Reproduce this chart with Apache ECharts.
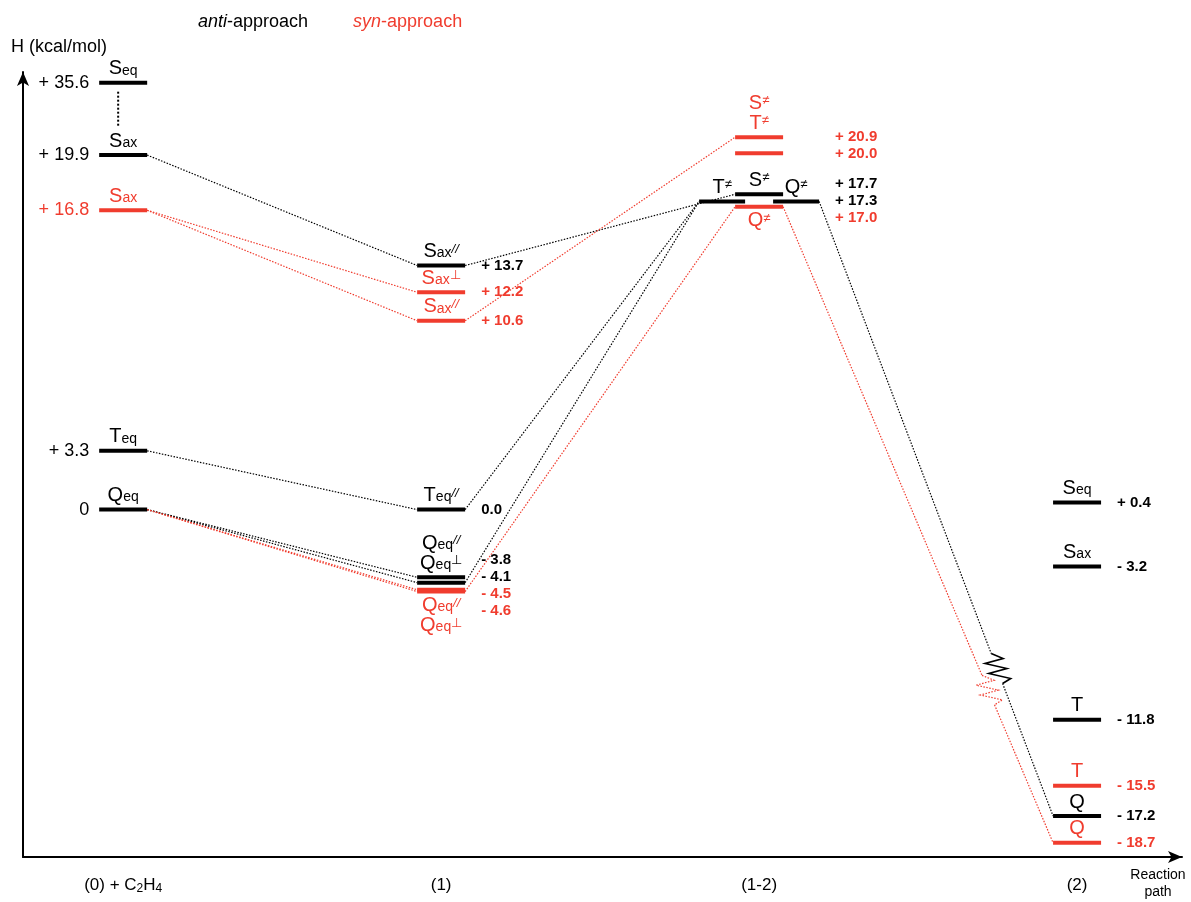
<!DOCTYPE html>
<html>
<head>
<meta charset="utf-8">
<title>Reaction enthalpy profile</title>
<script src="https://cdn.jsdelivr.net/npm/echarts@6/dist/echarts.min.js"></script>
<style>
  html, body { margin: 0; padding: 0; background: #ffffff; }
  #chart { width: 1191px; height: 902px; }
</style>
</head>
<body>
<div id="chart"></div>
<script>
// Reaction-path stages along the x-axis
const stages = ['(0) + C2H4', '(1)', '(1-2)', '(2)'];

// Energy levels: stage index, species, approach and enthalpy H (kcal/mol)
const levelStage = [0, 0, 0, 0, 0,
  1, 1, 1, 1, 1, 1, 1, 1,
  2, 2, 2, 2, 2, 2,
  3, 3, 3, 3, 3, 3];
const levelSpecies = ['S_eq', 'S_ax', 'S_ax', 'T_eq', 'Q_eq',
  'S_ax^//', 'S_ax^⊥', 'S_ax^//', 'T_eq^//', 'Q_eq^//', 'Q_eq^⊥', 'Q_eq^//', 'Q_eq^⊥',
  'S^≠', 'T^≠', 'S^≠', 'T^≠', 'Q^≠', 'Q^≠',
  'S_eq', 'S_ax', 'T', 'T', 'Q', 'Q'];
const levelApproach = ['anti', 'anti', 'syn', 'anti', 'anti',
  'anti', 'syn', 'syn', 'anti', 'anti', 'anti', 'syn', 'syn',
  'syn', 'syn', 'anti', 'anti', 'anti', 'syn',
  'anti', 'anti', 'anti', 'syn', 'anti', 'syn'];
const levelH = [35.6, 19.9, 16.8, 3.3, 0,
  13.7, 12.2, 10.6, 0.0, -3.8, -4.1, -4.5, -4.6,
  20.9, 20.0, 17.7, 17.3, 17.3, 17.0,
  0.4, -3.2, -11.8, -15.5, -17.2, -18.7];

// Connections between levels (index into the level arrays)
const linkFrom = [1, 2, 2, 3, 4, 4, 4, 4, 5, 7, 8, 10, 12, 17, 18];
const linkTo   = [5, 6, 7, 8, 9, 10, 11, 12, 15, 13, 16, 16, 18, 23, 24];

// Enthalpy axis range and the break that skips the empty band below S_eq
const H_MIN = -19.5, H_MAX = 36.2;
const H_BREAK = { start: 21.6, end: 35.0 };

// Paths entering this stage are drawn broken (zigzag)
const BROKEN_STAGE = 3;

const COLOR = { anti: '#000000', syn: '#f03c2e' };
const FONT = '"Liberation Sans", Arial, sans-serif';
const HALF_W = 24, PAIR_HALF_W = 23, PAIR_SHIFT = 37, BAR_W = 4;
const NAME_H = 18, NAME_STEP = 20, NAME_ROOM = 22;
const VALUE_STEP = 17;

function formatH(h, stage) {
  if (h === 0) return stage === 0 ? '0' : '0.0';
  return (h > 0 ? '+ ' : '- ') + Math.abs(h).toFixed(1);
}

function speciesRich(sp) {
  const m = sp.match(/^([^_^]+)(?:_([^^]+))?(?:\^(.+))?$/);
  let s = '{m|' + m[1] + '}';
  if (m[2]) s += '{sb|' + m[2] + '}';
  if (m[3]) s += (m[3] === '//' ? '{spi|' : '{sp|') + m[3] + '}';
  return s;
}

function nameRich(color) {
  return {
    m:   { fontFamily: FONT, fontSize: 20, lineHeight: NAME_H, verticalAlign: 'middle', fill: color },
    sb:  { fontFamily: FONT, fontSize: 14, lineHeight: 11, verticalAlign: 'bottom', fill: color },
    sp:  { fontFamily: FONT, fontSize: 13, lineHeight: 10, verticalAlign: 'top', fill: color },
    spi: { fontFamily: FONT, fontSize: 13, lineHeight: 10, verticalAlign: 'top', fontStyle: 'italic', fill: color }
  };
}

// Spread labels of one column so that they keep a minimum vertical step
function spread(items, step) {
  let blocks = items.map(it => ({ items: [it], top: it.y }));
  const place = b => {
    const mean = b.items.reduce((s, it) => s + it.y, 0) / b.items.length;
    b.top = mean - (b.items.length - 1) * step / 2;
  };
  let merged = true;
  while (merged) {
    merged = false;
    for (let k = 0; k < blocks.length - 1; k++) {
      const a = blocks[k], b = blocks[k + 1];
      if (a.top + a.items.length * step > b.top) {
        a.items = a.items.concat(b.items);
        place(a);
        blocks.splice(k + 1, 1);
        merged = true;
        break;
      }
    }
  }
  blocks.forEach(b => b.items.forEach((it, j) => { it.vy = b.top + j * step; }));
}

const xOverlap = (a, b) => Math.min(a.x1, b.x1) - Math.max(a.x0, b.x0);

// Species names sit above their level; crowded levels stack their names
// above the group when there is room, otherwise half above and half below
function placeNames(col) {
  const parent = col.map((_, k) => k);
  const find = k => (parent[k] === k ? k : (parent[k] = find(parent[k])));
  for (let a = 0; a < col.length; a++) {
    for (let b = a + 1; b < col.length; b++) {
      if (Math.abs(col[a].y - col[b].y) < NAME_ROOM && xOverlap(col[a], col[b]) > 20) parent[find(a)] = find(b);
    }
  }
  const groups = {};
  col.forEach((l, k) => { const r = find(k); (groups[r] = groups[r] || []).push(l); });
  Object.keys(groups).forEach(key => {
    const g = groups[key];
    g.sort((a, b) => a.y - b.y || a.cx - b.cx);
    const top = g[0].y, bottom = g[g.length - 1].y;
    const above = col.filter(o => g.indexOf(o) < 0 && o.y < top && g.some(m => xOverlap(o, m) > 20));
    const room = above.length ? top - Math.max.apply(null, above.map(o => o.y)) : Infinity;
    const nAbove = room >= g.length * NAME_STEP + 8 ? g.length : Math.ceil(g.length / 2);
    g.forEach((l, j) => {
      if (j < nAbove) {
        l.nameY = top - BAR_W / 2 - 3 - (nAbove - 1 - j) * NAME_STEP;
        l.nameVA = 'bottom';
      } else {
        l.nameY = bottom + BAR_W / 2 + 3 + (j - nAbove) * NAME_STEP;
        l.nameVA = 'top';
      }
    });
  });
}

function computeLayout(api) {
  const L = levelH.map((h, i) => {
    const p = api.coord([levelStage[i], h]);
    return { i: i, cx: p[0], y: p[1], half: HALF_W, showValue: true };
  });
  // levels of one stage at the same enthalpy sit side by side and share one value label
  const same = {};
  L.forEach(l => {
    const k = levelStage[l.i] + '|' + levelH[l.i];
    (same[k] = same[k] || []).push(l);
  });
  Object.keys(same).forEach(k => {
    const g = same[k];
    if (g.length < 2) return;
    g.forEach((l, j) => {
      l.cx += (2 * j - (g.length - 1)) * PAIR_SHIFT;
      l.half = PAIR_HALF_W;
      l.showValue = j === 0;
    });
  });
  L.forEach(l => { l.x0 = l.cx - l.half; l.x1 = l.cx + l.half; });
  stages.forEach((s, st) => {
    const col = L.filter(l => levelStage[l.i] === st);
    const vx = st === 0
      ? Math.min.apply(null, col.map(l => l.x0)) - 10
      : Math.max.apply(null, col.map(l => l.x1)) + 16;
    const vals = col.filter(l => l.showValue).sort((a, b) => a.y - b.y);
    spread(vals, VALUE_STEP);
    vals.forEach(l => { l.vx = vx; l.valueAlign = st === 0 ? 'right' : 'left'; });
    placeNames(col);
  });
  return L;
}

function renderLevel(params, api) {
  const i = api.value(2);
  const l = computeLayout(api)[i];
  const color = COLOR[levelApproach[i]];
  const st = levelStage[i];
  const kids = [
    { type: 'line', shape: { x1: l.x0, y1: l.y, x2: l.x1, y2: l.y },
      style: { stroke: color, lineWidth: BAR_W } },
    { type: 'text', style: { text: speciesRich(levelSpecies[i]), rich: nameRich(color),
      x: l.cx, y: l.nameY, align: 'center', verticalAlign: l.nameVA } }
  ];
  if (l.showValue) {
    kids.push({ type: 'text', style: {
      text: formatH(levelH[i], st), x: l.vx, y: l.vy, align: l.valueAlign, verticalAlign: 'middle',
      fill: color, fontFamily: FONT, fontSize: st === 0 ? 18 : 15, fontWeight: st === 0 ? 'normal' : 'bold'
    } });
  }
  // a level beyond the axis break gets a dotted stub across the skipped band
  if (levelH[i] > H_BREAK.end) {
    const yb = api.coord([st, H_BREAK.start])[1];
    kids.push({ type: 'line', shape: { x1: l.cx - 5, y1: l.y + 9, x2: l.cx - 5, y2: yb + 2 },
      style: { stroke: color, lineWidth: 2, lineDash: [2, 2] } });
  }
  return { type: 'group', children: kids };
}

function renderLink(params, api) {
  const k = api.value(2);
  const L = computeLayout(api);
  const a = L[linkFrom[k]], b = L[linkTo[k]];
  const approach = levelApproach[linkTo[k]];
  const color = COLOR[approach];
  const p0 = [a.x1, a.y], p1 = [b.x0, b.y];
  const dotted = { stroke: color, lineWidth: 1.2, lineDash: [1.5, 1.5], fill: null };
  if (levelStage[linkTo[k]] !== BROKEN_STAGE) {
    return { type: 'polyline', shape: { points: [p0, p1] }, style: dotted };
  }
  const dx = p1[0] - p0[0], dy = p1[1] - p0[1];
  const len = Math.hypot(dx, dy);
  const t = 0.76, h = 16 / len;
  const at = f => [p0[0] + dx * f, p0[1] + dy * f];
  const A = at(t - h), B = at(t + h);
  const zig = [A];
  const n = 6;
  for (let j = 1; j < n; j++) {
    const q = at(t - h + 2 * h * j / n);
    zig.push([q[0] + (j % 2 ? 10 : -10), q[1]]);
  }
  zig.push(B);
  const zigStyle = approach === 'anti'
    ? { stroke: color, lineWidth: 1.6, fill: null }
    : { stroke: color, lineWidth: 1.2, lineDash: [1.5, 1.5], fill: null };
  return { type: 'group', children: [
    { type: 'polyline', shape: { points: [p0, A] }, style: dotted },
    { type: 'polyline', shape: { points: zig }, style: zigStyle },
    { type: 'polyline', shape: { points: [B, p1] }, style: dotted }
  ] };
}

function levelSeries(approach) {
  return {
    type: 'custom',
    name: approach + '-approach',
    coordinateSystem: 'cartesian2d',
    z: 3,
    silent: true,
    dimensions: ['stage', 'H', 'idx'],
    encode: { x: 0, y: 1 },
    data: levelH.map((h, i) => [levelStage[i], h, i]).filter(d => levelApproach[d[2]] === approach),
    renderItem: renderLevel
  };
}

const chemLabel = s => s.replace(/([A-Za-z])(\d+)/g, '$1{s|$2}');

const axisArrowLine = {
  show: true, onZero: false, symbol: ['none', 'arrow'], symbolSize: [9, 14],
  lineStyle: { color: '#000', width: 2 }
};

const chart = echarts.init(document.getElementById('chart'), null, { renderer: 'canvas' });

chart.setOption({
  animation: false,
  backgroundColor: '#ffffff',
  title: {
    text: 'H (kcal/mol)', left: 11, top: 38, padding: 0,
    textStyle: { fontFamily: FONT, fontSize: 18, fontWeight: 'normal', color: '#000' }
  },
  legend: {
    left: 188, top: 7, itemGap: 40, itemWidth: 0, itemHeight: 20, icon: 'none', selectedMode: false,
    textStyle: { fontFamily: FONT, fontSize: 18 },
    formatter: name => '{i|' + name.split('-')[0] + '}-approach',
    data: ['anti', 'syn'].map(a => ({
      name: a + '-approach',
      textStyle: { color: COLOR[a], rich: { i: { fontFamily: FONT, fontSize: 18, fontStyle: 'italic', color: COLOR[a] } } }
    }))
  },
  grid: { left: 23, right: 9, top: 72, bottom: 45, containLabel: false, outerBoundsMode: 'none' },
  xAxis: {
    type: 'value', min: -0.315, max: 3.33,
    axisLine: axisArrowLine,
    axisTick: { show: false },
    splitLine: { show: false },
    axisLabel: {
      customValues: [0, 1, 2, 3],
      formatter: v => chemLabel(stages[Math.round(v)]),
      color: '#000', fontFamily: FONT, fontSize: 17, lineHeight: 20, margin: 18,
      rich: { s: { fontFamily: FONT, fontSize: 12, lineHeight: 10, verticalAlign: 'bottom', color: '#000' } }
    },
    name: 'Reaction\npath', nameLocation: 'end', nameGap: -24,
    nameTextStyle: { fontFamily: FONT, fontSize: 14, color: '#000', align: 'center',
      verticalAlign: 'top', lineHeight: 17, padding: [10, 0, 0, 0] }
  },
  yAxis: [
    {
      // enthalpy scale used by all levels
      type: 'value', min: H_MIN, max: H_MAX,
      breaks: [{ start: H_BREAK.start, end: H_BREAK.end, gap: '4%' }],
      breakArea: { show: false },
      axisLine: { show: false },
      axisTick: { show: false },
      axisLabel: { show: false },
      splitLine: { show: false }
    },
    {
      // continuous axis line with arrow drawn along the same edge
      type: 'value', position: 'left', offset: 0, min: 0, max: 1,
      axisLine: axisArrowLine,
      axisTick: { show: false },
      axisLabel: { show: false },
      splitLine: { show: false }
    }
  ],
  series: [
    {
      type: 'custom',
      name: 'paths',
      coordinateSystem: 'cartesian2d',
      z: 2,
      silent: true,
      dimensions: ['stage', 'H', 'idx'],
      encode: { x: 0, y: 1 },
      data: linkFrom.map((f, k) => [levelStage[f], levelH[f], k]),
      renderItem: renderLink
    },
    levelSeries('anti'),
    levelSeries('syn')
  ]
});
</script>
</body>
</html>
